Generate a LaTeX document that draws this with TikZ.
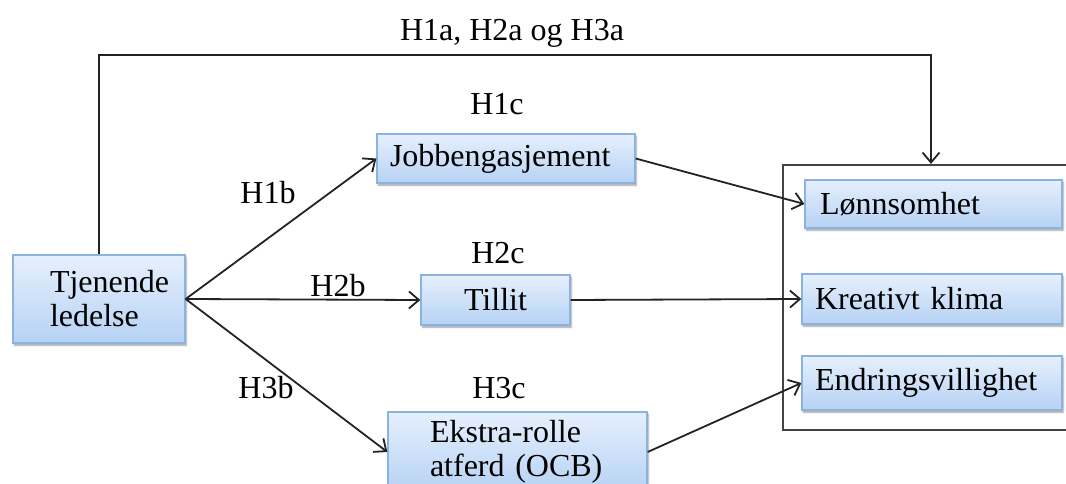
\documentclass[tikz,border=0pt]{standalone}
\usepackage{fontspec}
\setmainfont{Liberation Serif}
\usetikzlibrary{arrows.meta,shadows.blur}
\definecolor{boxborder}{RGB}{140,178,225}
\definecolor{boxtop}{RGB}{230,240,253}
\definecolor{boxbot}{RGB}{182,210,244}
\definecolor{linecol}{RGB}{35,35,35}
\tikzset{
  box/.style={draw=boxborder, line width=1.3pt, top color=boxtop, bottom color=boxbot,
    align=left, inner ysep=0pt,
    blur shadow={shadow xshift=1.2pt, shadow yshift=-2.2pt, shadow blur steps=5, shadow opacity=40}},
  lbl/.style={inner sep=0pt},
  conn/.style={draw=linecol, line width=1.8pt, -{Straight Barb[length=10pt,width=17pt,line width=1.8pt]}},
  outerbox/.style={draw=linecol!85, line width=2.2pt, inner sep=0pt}
}
\begin{document}
\begin{tikzpicture}[x=1pt, y=-1pt, font=\fontsize{32}{34}\selectfont]
\useasboundingbox (0,0) rectangle (1066,484);
% outer frame
\node[outerbox, minimum width=297pt, minimum height=265pt] (outer) at (931.5,297.5) {};
% boxes
\node[box, minimum width=172pt, minimum height=88pt, inner xsep=37pt, text width=98pt] (tj) at (99,299) {Tjenende\\ledelse};
\node[box, minimum width=258pt, minimum height=49pt, inner xsep=13pt, text width=232pt] (job) at (506,158.5) {Jobbengasjement};
\node[box, minimum width=149pt, minimum height=50pt] (til) at (495.5,300) {Tillit};
\node[box, minimum width=259pt, minimum height=80pt, inner xsep=42pt, text width=175pt] (ocb) at (517.5,452) {Ekstra-rolle\\atferd~(OCB)};
\node[box, minimum width=257pt, minimum height=48pt, inner xsep=15pt, text width=227pt] (lon) at (933.5,204) {Lønnsomhet};
\node[box, minimum width=260pt, minimum height=50pt, inner xsep=13pt, text width=234pt] (kre) at (932,299) {Kreativt klima};
\node[box, minimum width=260pt, minimum height=54pt, inner xsep=13pt, text width=234pt] (end) at (932,383) {Endringsvillighet};
% labels
\node[lbl] (l1a) at (512,33) {H1a, H2a og H3a};
\node[lbl] (l1c) at (497,104) {H1c};
\node[lbl] (l2c) at (498,253) {H2c};
\node[lbl] (l3c) at (499,388) {H3c};
\node[lbl] (l1b) at (268,193) {H1b};
\node[lbl] (l2b) at (338,286) {H2b};
\node[lbl] (l3b) at (266,388) {H3b};
% connectors
\coordinate (topR) at (931,55);
\draw[conn] (tj.north) |- (topR) -- (topR |- outer.north);
\draw[conn] (tj.east) -- (job.west);
\draw[conn] (tj.east) -- (til.west);
\draw[conn] (tj.east) -- (ocb.west);
\draw[conn] (job.east) -- (lon.west);
\draw[conn] (til.east) -- (kre.west);
\draw[conn] (ocb.east) -- (end.west);
\end{tikzpicture}
\end{document}
